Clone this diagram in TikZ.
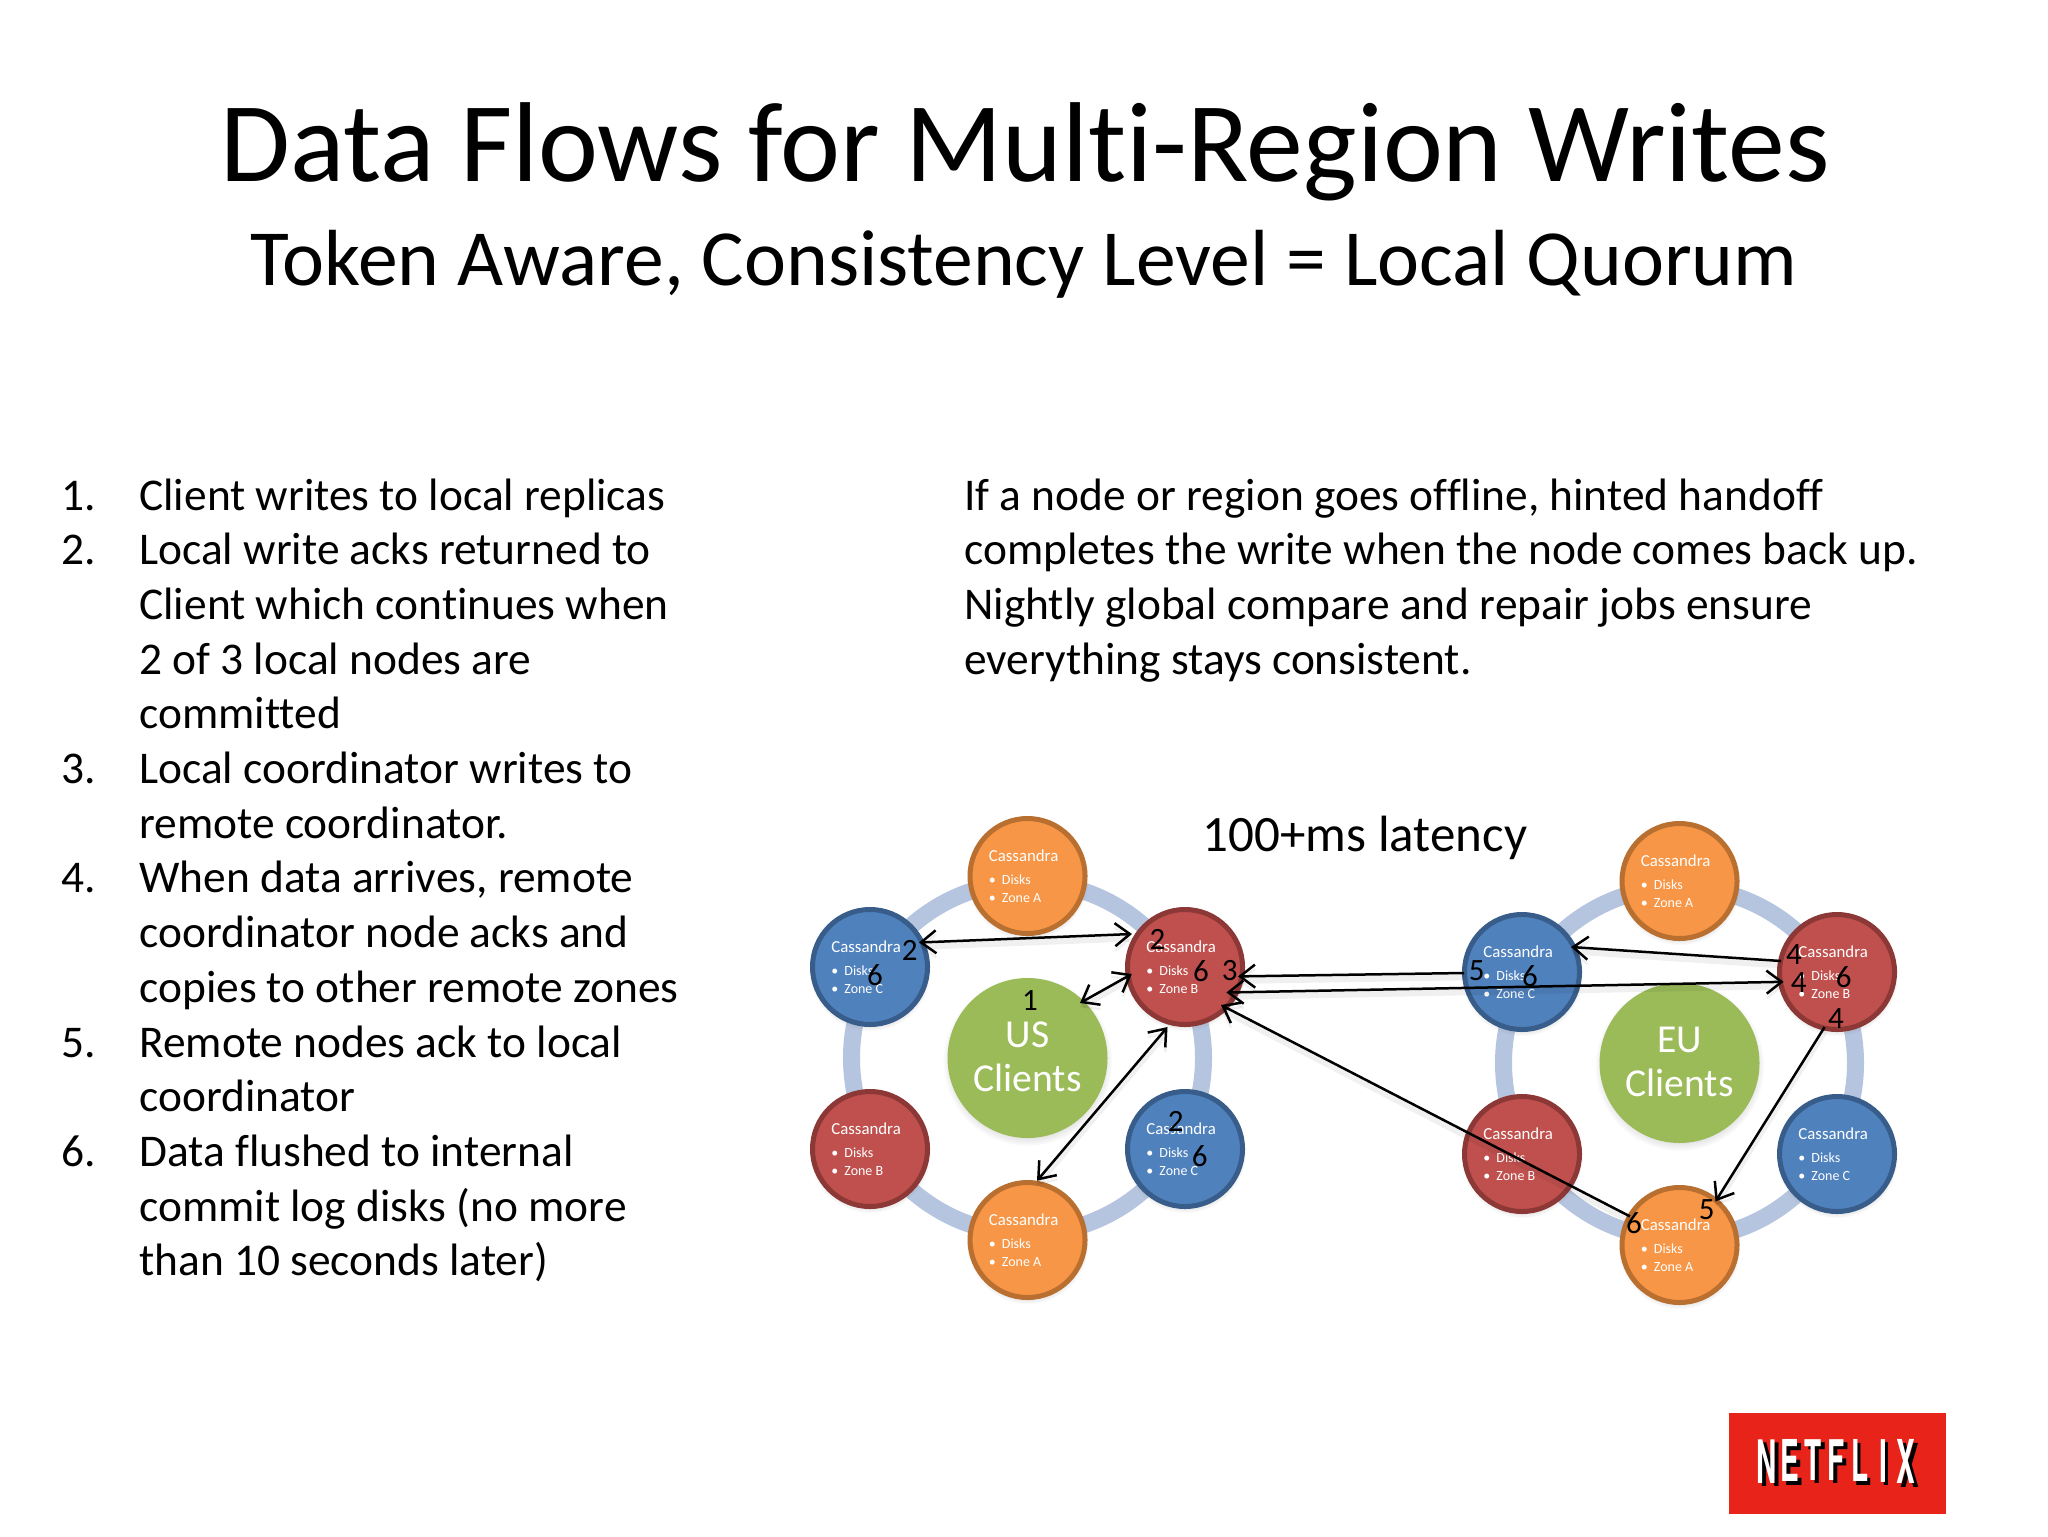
\documentclass[tikz,border=0pt]{standalone}
\usepackage{fontspec}
\usepackage{graphicx}
\setmainfont{Carlito}[Ligatures=NoCommon]
\newfontfamily\nflxfont{TeX Gyre Heros}[BoldFont=* Bold]
\usetikzlibrary{arrows.meta,shadows,fadings,calc}
\definecolor{orF}{HTML}{F79646}\definecolor{orB}{HTML}{B96F2F}
\definecolor{blF}{HTML}{4F81BD}\definecolor{blB}{HTML}{385D8A}
\definecolor{reF}{HTML}{C0504D}\definecolor{reB}{HTML}{8C3836}
\definecolor{grF}{HTML}{9BBB59}\definecolor{ringC}{HTML}{B5C4DF}
\definecolor{nflxR}{HTML}{E8231A}
\newcommand\fsz[1]{\fontsize{#1}{#1}\selectfont}
\tikzset{
 softshadow/.style={circular drop shadow={shadow xshift=0pt,shadow yshift=-1.5pt,shadow scale=1.06,opacity=.3}},
 circ/.style={circle,minimum size=115*0.5pt,inner sep=0pt,line width=2.5pt,softshadow},
 orc/.style={circ,fill=orF,draw=orB},
 blc/.style={circ,fill=blF,draw=blB},
 rec/.style={circ,fill=reF,draw=reB},
 client/.style={circle,minimum size=80pt,inner sep=0pt,fill=grF,softshadow},
 clientT/.style={text=white,font=\fsz{19.8},inner sep=0pt,anchor=base},
 ringS/.style={draw=ringC,line width=8.5pt},
 cT/.style={text=white,font=\fsz{8.4},inner sep=0pt,anchor=base west},
 cS/.style={text=white,font=\fsz{7},inner sep=0pt,anchor=base west},
 body/.style={font=\fsz{22.7},inner sep=0pt,anchor=base west},
 num/.style={font=\fsz{15.5},inner sep=0pt,anchor=center},
 conn/.style={line width=1.25pt,black,
   preaction={draw=black,opacity=.06,line width=3pt,transform canvas={yshift=-2.2pt}}},
 barb/.tip={Straight Barb[length=7.5pt,width=11.5pt,line width=1.25pt]},
}
\newcommand\cass[6]{%
 \node[#4] (#1) at (#2,#3) {};
 \node[cT] (#1t) at ([shift={(-39,-14.3)}]#1.center) {Cassandra};
 \node[cS] (#1b1) at ([shift={(-39,8.6)}]#1.center) {•};
 \node[cS] (#1d) at ([shift={(-26,8.6)}]#1.center) {Disks};
 \node[cS] (#1b2) at ([shift={(-39,26.8)}]#1.center) {•};
 \node[cS] (#1z) at ([shift={(-26,26.8)}]#1.center) {Zone #5};
}
\newcommand\nfl[3]{\makebox[11.6pt]{\raisebox{-#2pt}{\scalebox{.5}[#1]{#3}}}}
\newcommand\nflword{\nfl{1.07}{1.4}{N}\nfl{1.03}{.7}{E}\nfl{1}{0}{T}\nfl{1}{0}{F}\nfl{1.03}{.7}{L}\nfl{1.05}{1}{I}\nfl{1.08}{1.6}{X}}
\begin{document}
\begin{tikzpicture}[x=0.5pt,y=-0.5pt]
\useasboundingbox (0,0) rectangle (2048,1536);
\fill[white] (0,0) rectangle (2048,1536);
% titles
\node[font=\fsz{56.8},inner sep=0pt,anchor=base] (title) at (1025,181.5) {Data Flows for Multi-Region Writes};
\node[font=\fsz{39.8},inner sep=0pt,anchor=base] (subtitle) at (1024,285) {Token Aware, Consistency Level = Local Quorum};
% list
\node[body] (n1) at (61,{510+54.7*0}) {1.};
\node[body] (l0) at (139,{510+54.7*0}) {Client writes to local replicas};
\node[body] (n2) at (61,{510+54.7*1}) {2.};
\node[body] (l1) at (139,{510+54.7*1}) {Local write acks returned to};
\node[body] (l2) at (139,{510+54.7*2}) {Client which continues when};
\node[body] (l3) at (139,{510+54.7*3}) {2 of 3 local nodes are};
\node[body] (l4) at (139,{510+54.7*4}) {committed};
\node[body] (n3) at (61,{510+54.7*5}) {3.};
\node[body] (l5) at (139,{510+54.7*5}) {Local coordinator writes to};
\node[body] (l6) at (139,{510+54.7*6}) {remote coordinator.};
\node[body] (n4) at (61,{510+54.7*7}) {4.};
\node[body] (l7) at (139,{510+54.7*7}) {When data arrives, remote};
\node[body] (l8) at (139,{510+54.7*8}) {coordinator node acks and};
\node[body] (l9) at (139,{510+54.7*9}) {copies to other remote zones};
\node[body] (n5) at (61,{510+54.7*10}) {5.};
\node[body] (l10) at (139,{510+54.7*10}) {Remote nodes ack to local};
\node[body] (l11) at (139,{510+54.7*11}) {coordinator};
\node[body] (n6) at (61,{510+54.7*12}) {6.};
\node[body] (l12) at (139,{510+54.7*12}) {Data flushed to internal};
\node[body] (l13) at (139,{510+54.7*13}) {commit log disks (no more};
\node[body] (l14) at (139,{510+54.7*14}) {than 10 seconds later)};
% right paragraph
\node[body] (r0) at (964,{510+54.7*0}) {If a node or region goes offline, hinted handoff};
\node[body] (r1) at (964,{510+54.7*1}) {completes the write when the node comes back up.};
\node[body] (r2) at (964,{510+54.7*2}) {Nightly global compare and repair jobs ensure};
\node[body] (r3) at (964,{510+54.7*3}) {everything stays consistent.};
\node[body,anchor=base,font=\fsz{25.5}] (lat) at (1365,851) {100+ms latency};
% rings
\draw[ringS] (1027.5,1058) circle[radius=176];
\draw[ringS] (1679.5,1063) circle[radius=176];
% US
\cass{oaU}{1027.5}{876}{orc}{A}{}
\cass{bcU}{870}{967}{blc}{C}{}
\cass{rbU}{1185}{967}{rec}{B}{}
\cass{rlU}{870}{1149}{rec}{B}{}
\cass{bbU}{1185}{1149}{blc}{C}{}
\cass{obU}{1027.5}{1240}{orc}{A}{}
\node[client] (usC) at (1027.5,1058) {};
\node[clientT] (usT1) at (1027.5,1047) {US};
\node[clientT] (usT2) at (1027.5,1091) {Clients};
% EU
\cass{oaE}{1679.5}{881}{orc}{A}{}
\cass{bcE}{1522}{972}{blc}{C}{}
\cass{rbE}{1837}{972}{rec}{B}{}
\cass{rlE}{1522}{1154}{rec}{B}{}
\cass{bbE}{1837}{1154}{blc}{C}{}
\cass{obE}{1679.5}{1245}{orc}{A}{}
\node[client] (euC) at (1679.5,1063) {};
\node[clientT] (euT1) at (1679.5,1052) {EU};
\node[clientT] (euT2) at (1679.5,1096) {Clients};
% connectors
\draw[conn,barb-barb] ([shift={(49,-24.5)}]bcU.center) -- ([shift={(-53,-33)}]rbU.center);
\draw[conn,barb-barb] ([shift={(52.5,-55)}]usC.center) -- ([shift={(-53.2,7)}]rbU.center);
\draw[conn,barb-barb] ([shift={(9.5,-59.3)}]obU.center) -- ([shift={(-17.5,60)}]rbU.center);
\draw[conn,-barb] ([shift={(-58,1)}]bcE.center) -- ([shift={(53,9.4)}]rbU.center);
\draw[conn,barb-barb] ([shift={(41.4,25.5)}]rbU.center) -- ([shift={(-53.4,9.8)}]rbE.center);
\draw[conn,-barb] ([shift={(-56,-11)}]rbE.center) -- ([shift={(49,-25)}]bcE.center);
\draw[conn,-barb] ([shift={(-49.5,-28.6)}]obE.center) -- ([shift={(36,38)}]rbU.center);
\draw[conn,-barb] ([shift={(-12.4,55)}]rbE.center) -- ([shift={(36,-43.6)}]obE.center);
% step numbers
\node[num] (s1) at (1030,1001) {1};
\node[num] (s2a) at (909.6,950) {2};
\node[num] (s6a) at (875,975) {6};
\node[num] (s2b) at (1157.5,939.6) {2};
\node[num] (s6b) at (1201,971) {6};
\node[num] (s3) at (1229.6,971) {3};
\node[num] (s2c) at (1175.7,1121.4) {2};
\node[num] (s6c) at (1199.6,1155.7) {6};
\node[num] (s5a) at (1476.8,970.4) {5};
\node[num] (s6d) at (1530,976) {6};
\node[num] (s4a) at (1794,955) {4};
\node[num] (s4b) at (1798.6,983) {4};
\node[num] (s6e) at (1843.6,976.8) {6};
\node[num] (s4c) at (1836,1018.6) {4};
\node[num] (s5b) at (1706.8,1209.3) {5};
\node[num] (s6f) at (1634,1223) {6};
% logo
\fill[nflxR] (1729,1413) rectangle (1946,1514);
\node[inner sep=0pt,text=black,font=\nflxfont\bfseries\fsz{28},anchor=center] (nflxS) at (1840,1465) {\nflword};
\node[inner sep=0pt,text=white,font=\nflxfont\bfseries\fsz{28},anchor=center] (nflx) at (1836.5,1461.5) {\nflword};
\end{tikzpicture}
\end{document}
